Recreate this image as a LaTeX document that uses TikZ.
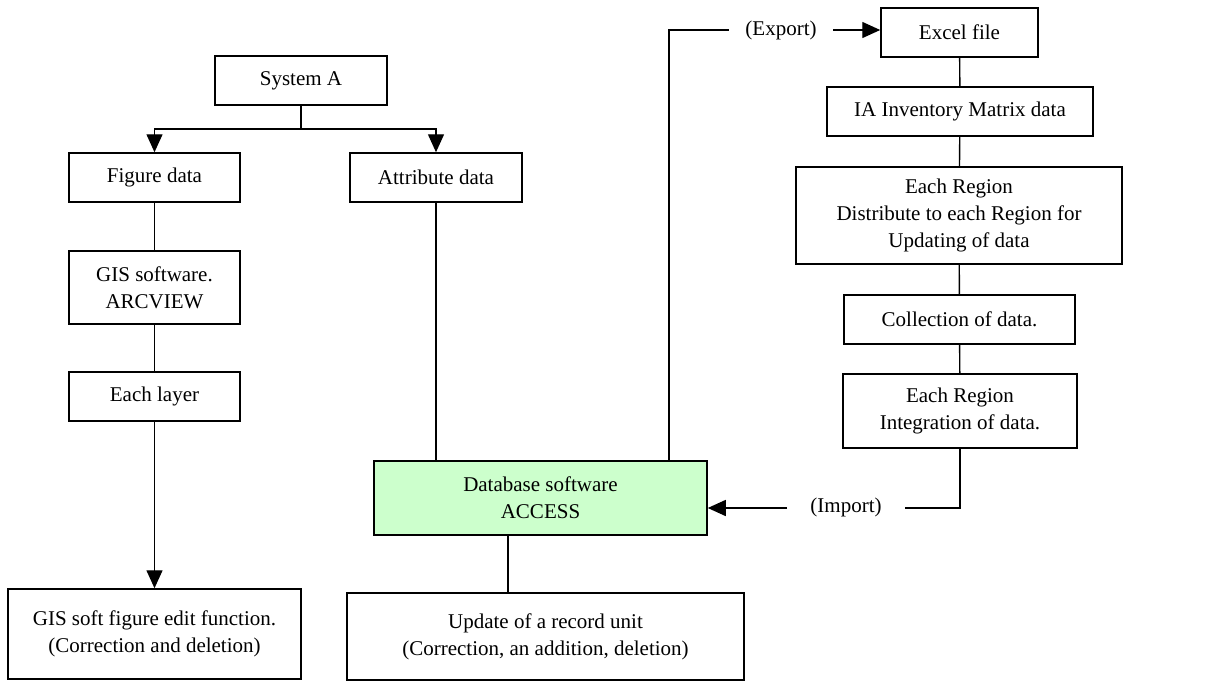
\documentclass[tikz,border=0pt]{standalone}
\usepackage{fontspec}
\setmainfont{Liberation Serif}
\usetikzlibrary{arrows.meta}
\definecolor{dbgreen}{RGB}{204,255,204}

\begin{document}
\begin{tikzpicture}[x=1pt,y=-1pt]
\tikzstyle{box}=[draw,line width=1.5pt,align=center,inner sep=2pt,font=\fontsize{21}{26.7}\selectfont]
\tikzstyle{lbl}=[align=center,inner sep=0pt,font=\fontsize{21}{26.7}\selectfont]
\tikzstyle{link}=[line width=1.4pt]
\tikzstyle{arr}=[line width=1.4pt,-{Triangle[length=18pt,width=16pt]}]
\useasboundingbox (0,0) rectangle (1206,682);

% left side
\path (301,80.5) node[box,minimum width=172pt,minimum height=49pt](sysA){System A};
\path (154.5,177.5) node[box,minimum width=171pt,minimum height=49pt](fig){Figure data}
      (436,177.5) node[box,minimum width=172pt,minimum height=49pt](attr){Attribute data};
\path (154.5,287.5) node[box,minimum width=171pt,minimum height=73pt](gis){GIS software.\\ARCVIEW};
\path (154.5,396.5) node[box,minimum width=171pt,minimum height=49pt](layer){Each layer};
\path (154.5,634) node[box,minimum width=293pt,minimum height=90pt](gisedit){GIS soft figure edit function.\\(Correction and deletion)};

% database
\path (540.5,498) node[box,fill=dbgreen,minimum width=333pt,minimum height=74pt](db){Database software\\ACCESS};
\path (545.5,636.5) node[box,minimum width=397pt,minimum height=87pt](update){Update of a record unit\\(Correction, an addition, deletion)};

% right side
\path (959.5,32.5) node[box,minimum width=157pt,minimum height=49pt](excel){Excel file};
\path (960,111.5) node[box,minimum width=266pt,minimum height=49pt](ia){IA Inventory Matrix data};
\path (959,215.5) node[box,minimum width=326pt,minimum height=97pt](distr){Each Region\\Distribute to each Region for\\Updating of data};
\path (959.5,319.5) node[box,minimum width=231pt,minimum height=49pt](coll){Collection of data.};
\path (960,411) node[box,minimum width=234pt,minimum height=74pt](integ){Each Region\\Integration of data.};

\path (781,30) node[lbl](export){(Export)};
\path (846,507) node[lbl](import){(Import)};
\coordinate (split) at (301,129);
\coordinate (expup) at (669,30);
\coordinate (expend) at (729,30);
\coordinate (exparr) at (833,30);
\coordinate (impend) at (905,508);
\coordinate (imparr) at (787,508);
\coordinate (dbout) at (508,0);

\draw[link] (sysA) -- (split);
\draw[arr] (split) -| (fig);
\draw[arr] (split) -| (attr);
\draw[link] (fig) -- (gis) -- (layer);
\draw[arr] (layer) -- (gisedit);
\draw[link] (attr.south) -- (attr.south |- db.north);
\draw[link] (db.south -| dbout) -- (update.north -| dbout);

\draw[link] (db.north -| expup) -- (expup) -- (expend);
\draw[arr] (exparr) -- (excel.west |- exparr);
\draw[link] (excel) -- (ia) -- (distr) -- (coll) -- (integ);
\draw[link] (integ.south) |- (impend);
\draw[arr] (imparr) -- (db.east |- imparr);
\end{tikzpicture}
\end{document}
